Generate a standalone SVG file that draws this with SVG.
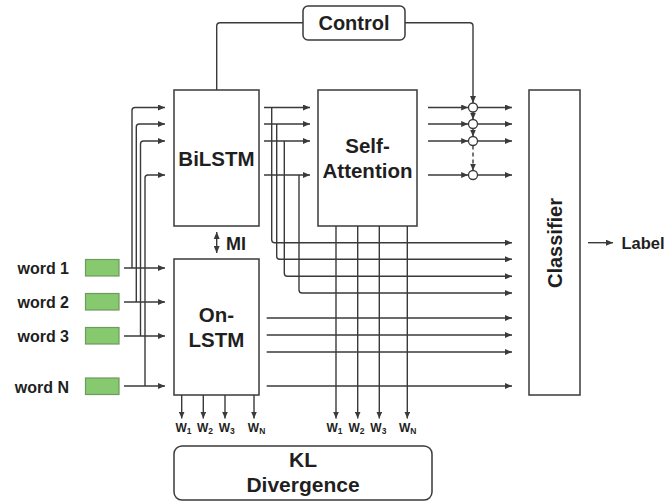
<svg xmlns="http://www.w3.org/2000/svg" width="665" height="502" viewBox="0 0 665 502">
  <style>
    .box { fill: #ffffff; stroke: #3a3a3a; stroke-width: 1.5; }
    .ln { fill: none; stroke: #3a3a3a; stroke-width: 1.4; }
    .arr { marker-end: url(#ah); }
    .dash { stroke-dasharray: 4 3; }
    .word { fill: #86c96e; stroke: #6e9a60; stroke-width: 1.2; }
    .gate { fill: #ffffff; stroke: #3a3a3a; stroke-width: 1.3; }
    .t { font-family: "Liberation Sans", Arial, Helvetica, sans-serif; font-weight: bold; fill: #1f1f1f; }
    .big { font-size: 20.5px; text-anchor: middle; }
    .lbl { font-size: 16px; }
    .w { font-size: 12px; }
    .sub { font-size: 8.5px; }
  </style>
  <defs>
    <marker id="ah" markerWidth="7" markerHeight="6" refX="7" refY="3" orient="auto-start-reverse" markerUnits="userSpaceOnUse">
      <path d="M0,0 L7,3 L0,6 z" fill="#3a3a3a"/>
    </marker>
  </defs>

  <!-- connectors -->
  <g id="connectors">
    <!-- Control signals -->
    <path class="ln" d="M303,22.7 H220 Q216.7,22.7 216.7,26 V90"/>
    <path class="ln arr" d="M405,22.7 H469.7 Q473,22.7 473,26 V103"/>

    <!-- words into On-LSTM -->
    <path class="ln arr" d="M124,268 H165"/>
    <path class="ln arr" d="M124,302 H165"/>
    <path class="ln arr" d="M124,336 H165"/>
    <path class="ln arr" d="M124,386 H165"/>

    <!-- words into BiLSTM -->
    <path class="ln arr" d="M132,268 V110.5 Q132,107.5 135,107.5 H165"/>
    <path class="ln arr" d="M136.3,302 V127 Q136.3,124 139.3,124 H165"/>
    <path class="ln arr" d="M140.5,336 V144 Q140.5,141 143.5,141 H165"/>
    <path class="ln arr" d="M145,386 V178 Q145,175 148,175 H165"/>

    <!-- BiLSTM to Self-Attention -->
    <path class="ln arr" d="M264,107.5 H310"/>
    <path class="ln arr" d="M264,124 H310"/>
    <path class="ln arr" d="M264,141 H310"/>
    <path class="ln arr" d="M264,175 H310"/>

    <!-- BiLSTM to Classifier -->
    <path class="ln arr" d="M271.7,107.5 V239.7 Q271.7,242.7 274.7,242.7 H512"/>
    <path class="ln arr" d="M276.7,124 V256.3 Q276.7,259.3 279.7,259.3 H512"/>
    <path class="ln arr" d="M284.3,141 V273.3 Q284.3,276.3 287.3,276.3 H512"/>
    <path class="ln arr" d="M299,175 V290 Q299,293 302,293 H512"/>

    <!-- On-LSTM to Classifier -->
    <path class="ln arr" d="M266.7,318 H512"/>
    <path class="ln arr" d="M266.7,335 H512"/>
    <path class="ln arr" d="M266.7,352 H512"/>
    <path class="ln arr" d="M266.7,386 H512"/>

    <!-- Self-Attention weights -->
    <path class="ln arr" d="M336,226 V418.5"/>
    <path class="ln arr" d="M357.7,226 V418.5"/>
    <path class="ln arr" d="M379.3,226 V418.5"/>
    <path class="ln arr" d="M407.3,226 V418.5"/>

    <!-- On-LSTM weights -->
    <path class="ln arr" d="M181.7,395 V418.5"/>
    <path class="ln arr" d="M203.3,395 V418.5"/>
    <path class="ln arr" d="M225,395 V418.5"/>
    <path class="ln arr" d="M254,395 V418.5"/>

    <!-- Self-Attention through gates to Classifier -->
    <path class="ln arr" d="M428,107.5 H468.2"/>
    <path class="ln arr" d="M428,124 H468.2"/>
    <path class="ln arr" d="M428,141 H468.2"/>
    <path class="ln arr" d="M428,175 H468.2"/>
    <path class="ln arr" d="M477.5,107.5 H512"/>
    <path class="ln arr" d="M477.5,124 H512"/>
    <path class="ln arr" d="M477.5,141 H512"/>
    <path class="ln arr" d="M477.5,175 H512"/>
    <path class="ln arr" d="M473,112 V119.5"/>
    <path class="ln arr" d="M473,128.5 V136.5"/>
    <path class="ln dash arr" d="M473,145.5 V170.5"/>

    <!-- mutual information -->
    <path class="ln" d="M216.7,232 V253" marker-start="url(#ah)" marker-end="url(#ah)"/>

    <!-- Classifier output -->
    <path class="ln arr" d="M588,242.7 H613"/>
  </g>

  <!-- gates -->
  <g id="gates">
    <circle class="gate" cx="473" cy="107.5" r="4.5"/>
    <circle class="gate" cx="473" cy="124" r="4.5"/>
    <circle class="gate" cx="473" cy="141" r="4.5"/>
    <circle class="gate" cx="473" cy="175" r="4.5"/>
  </g>

  <g id="control">
    <rect class="box" x="303" y="6" width="102" height="34" rx="5"/>
    <text class="t" x="354" y="29.5" font-size="20" text-anchor="middle">Control</text>
  </g>

  <g id="bilstm">
    <rect class="box" x="174" y="90" width="85" height="136"/>
    <text class="t big" x="216.5" y="165.7">BiLSTM</text>
  </g>

  <g id="onlstm">
    <rect class="box" x="174" y="259" width="85" height="136"/>
    <text class="t big" x="216.5" y="322.3">On-</text>
    <text class="t big" x="216.5" y="347.3">LSTM</text>
  </g>

  <g id="self-attention">
    <rect class="box" x="318" y="90" width="99" height="136"/>
    <text class="t big" x="367.5" y="152.7">Self-</text>
    <text class="t big" x="367.5" y="177.7">Attention</text>
  </g>

  <g id="classifier">
    <rect class="box" x="529" y="90" width="51" height="305"/>
    <text class="t" font-size="20" text-anchor="middle" transform="translate(561.5,243) rotate(-90)">Classifier</text>
  </g>

  <g id="label">
    <text class="t" x="621.5" y="249" font-size="16.5">Label</text>
  </g>

  <g id="kl-divergence">
    <rect class="box" x="174" y="446" width="258" height="54" rx="8"/>
    <text class="t" x="303" y="467.3" font-size="21" text-anchor="middle">KL</text>
    <text class="t" x="303" y="491.7" font-size="21" text-anchor="middle">Divergence</text>
  </g>

  <g id="mi">
    <text class="t" x="226" y="250" font-size="18">MI</text>
  </g>

  <g id="word-1">
    <text class="t lbl" x="69" y="274" text-anchor="end">word 1</text>
    <rect class="word" x="85.5" y="259.5" width="33.5" height="16.5"/>
  </g>
  <g id="word-2">
    <text class="t lbl" x="69" y="308" text-anchor="end">word 2</text>
    <rect class="word" x="85.5" y="293.5" width="33.5" height="16.5"/>
  </g>
  <g id="word-3">
    <text class="t lbl" x="69" y="342" text-anchor="end">word 3</text>
    <rect class="word" x="85.5" y="327.5" width="33.5" height="16.5"/>
  </g>
  <g id="word-n">
    <text class="t lbl" x="69" y="392.5" text-anchor="end">word N</text>
    <rect class="word" x="85.5" y="378" width="33.5" height="16.5"/>
  </g>

  <!-- weight labels -->
  <g id="onlstm-weights">
    <text class="t w" x="175.5" y="431.5">W<tspan class="sub" dy="2.5">1</tspan></text>
    <text class="t w" x="197" y="431.5">W<tspan class="sub" dy="2.5">2</tspan></text>
    <text class="t w" x="218.7" y="431.5">W<tspan class="sub" dy="2.5">3</tspan></text>
    <text class="t w" x="247.8" y="431.5">W<tspan class="sub" dy="2.5">N</tspan></text>
  </g>
  <g id="attention-weights">
    <text class="t w" x="326.5" y="431.5">W<tspan class="sub" dy="2.5">1</tspan></text>
    <text class="t w" x="348.5" y="431.5">W<tspan class="sub" dy="2.5">2</tspan></text>
    <text class="t w" x="370.3" y="431.5">W<tspan class="sub" dy="2.5">3</tspan></text>
    <text class="t w" x="399" y="431.5">W<tspan class="sub" dy="2.5">N</tspan></text>
  </g>
</svg>
